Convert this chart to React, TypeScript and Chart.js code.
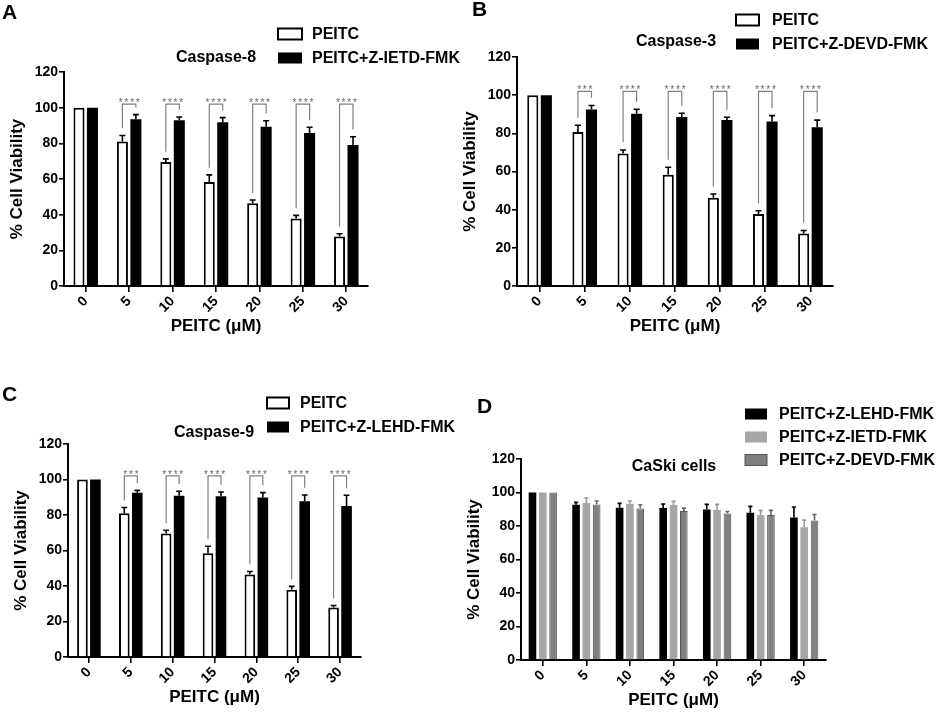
import { useEffect, useRef } from 'react';
import { Chart, registerables } from 'chart.js';

Chart.register(...registerables);

const FONT = "'Liberation Sans', Arial, Helvetica, sans-serif";
Chart.defaults.font.family = FONT;
Chart.defaults.color = '#000';

// PEITC doses (µM), shared by every panel
const doses = ['0', '5', '10', '15', '20', '25', '30'];

// A - caspase-8
const casp8Peitc = [100, 81, 69.5, 58.3, 46.4, 37.8, 27.7];
const casp8PeitcErr = [0, 3.4, 1.8, 4, 1.8, 1.8, 1.6];
const casp8Inhib = [100, 93.5, 92.9, 91.8, 89.3, 85.8, 79.1];
const casp8InhibErr = [0, 2.6, 1.9, 2.6, 3.4, 3.2, 4.6];
const casp8Stars = ['', '****', '****', '****', '****', '****', '****'];

// B - caspase-3
const casp3Peitc = [100, 80.7, 69.4, 58.3, 46.2, 37.7, 27.5];
const casp3PeitcErr = [0, 3.5, 1.9, 3.9, 2, 1.7, 1.6];
const casp3Inhib = [100, 92.5, 90.2, 88.6, 87, 86.2, 83.2];
const casp3InhibErr = [0, 2.1, 2.4, 1.9, 1.4, 3.1, 3.7];
const casp3Stars = ['', '***', '****', '****', '****', '****', '****'];

// C - caspase-9
const casp9Peitc = [100, 81, 69.6, 58.5, 46.5, 37.9, 27.9];
const casp9PeitcErr = [0, 3.2, 1.8, 3.9, 1.7, 1.9, 1.1];
const casp9Inhib = [100, 92.6, 90.8, 90.6, 89.8, 87.8, 85.1];
const casp9InhibErr = [0, 1.3, 2.6, 2.4, 2.8, 3.5, 6];
const casp9Stars = ['', '***', '****', '****', '****', '****', '****'];

// D - CaSki cells, inhibitors only
const caskiLehd = [100, 92.7, 90.9, 90.7, 89.9, 87.9, 85.1];
const caskiLehdErr = [0, 1.4, 2.6, 2.4, 3, 3.8, 6.2];
const caskiIetd = [100, 93.7, 93.3, 92.5, 89.5, 86.5, 79.3];
const caskiIetdErr = [0, 3, 1.6, 2.2, 3.4, 2.8, 4.2];
const caskiDevd = [100, 92.9, 90.5, 88.9, 87.5, 86.5, 83.3];
const caskiDevdErr = [0, 2, 2.2, 1.8, 1.2, 2.8, 3.6];

const X_AXIS_H = 51;
const Y_AXIS_W = 57;
const BRACKET_TOP = 102;
const BRACKET_GAP = 4;

type Series = {
  label: string;
  values: number[];
  errors: number[];
  fill: string;
  border: string;
  borderWidth: number;
  errColor: string;
};

type PanelProps = {
  box: { left: number; top: number; width: number; height: number };
  pad: { left: number; right: number; top: number; bottom: number };
  series: Series[];
  stars?: string[];
  catPct: number;
  barPct: number;
  letter: { text: string; x: number; y: number };
  title: { text: string; x: number; y: number };
  legend: { boxX: number; textX: number; rows: number[]; boxW: number; boxH: number };
};

const white = (label: string, values: number[], errors: number[]): Series => ({
  label, values, errors, fill: '#fff', border: '#000', borderWidth: 2, errColor: '#000',
});
const black = (label: string, values: number[], errors: number[]): Series => ({
  label, values, errors, fill: '#000', border: '#000', borderWidth: 0, errColor: '#000',
});

function Panel(props: PanelProps) {
  const canvasRef = useRef<HTMLCanvasElement | null>(null);

  useEffect(() => {
    if (!canvasRef.current) return;
    const { series, stars, letter, title, legend, pad, catPct, barPct } = props;

    const errorBars = {
      id: 'errorBars',
      afterDatasetsDraw(chart: any) {
        const { ctx } = chart;
        const y = chart.scales.y;
        series.forEach((s, di) => {
          const meta = chart.getDatasetMeta(di);
          meta.data.forEach((bar: any, i: number) => {
            const err = s.errors[i];
            if (!err) return;
            const yBase = y.getPixelForValue(s.values[i]);
            const yTop = y.getPixelForValue(s.values[i] + err);
            const half = Math.max(bar.width * 0.27, 2);
            ctx.save();
            ctx.strokeStyle = s.errColor;
            ctx.lineWidth = 1.6;
            ctx.beginPath();
            ctx.moveTo(bar.x, yBase);
            ctx.lineTo(bar.x, yTop);
            ctx.moveTo(bar.x - half, yTop);
            ctx.lineTo(bar.x + half, yTop);
            ctx.stroke();
            ctx.restore();
          });
        });
      },
    };

    const brackets = {
      id: 'brackets',
      afterDatasetsDraw(chart: any) {
        if (!stars) return;
        const { ctx } = chart;
        const y = chart.scales.y;
        const [a, b] = series;
        const ma = chart.getDatasetMeta(0);
        const mb = chart.getDatasetMeta(1);
        stars.forEach((s, i) => {
          if (!s) return;
          const xa = ma.data[i].x;
          const xb = mb.data[i].x;
          const top = y.getPixelForValue(BRACKET_TOP);
          const la = y.getPixelForValue(a.values[i] + a.errors[i] + BRACKET_GAP);
          const lb = y.getPixelForValue(b.values[i] + b.errors[i] + BRACKET_GAP);
          ctx.save();
          ctx.strokeStyle = '#808080';
          ctx.lineWidth = 1.2;
          ctx.beginPath();
          ctx.moveTo(xa, la);
          ctx.lineTo(xa, top);
          ctx.lineTo(xb, top);
          ctx.lineTo(xb, lb);
          ctx.stroke();
          ctx.fillStyle = '#666';
          ctx.font = `10px ${FONT}`;
          ctx.letterSpacing = '1.8px';
          ctx.textAlign = 'center';
          ctx.textBaseline = 'alphabetic';
          ctx.fillText(s, (xa + xb) / 2 + 1, top + 2);
          ctx.restore();
        });
      },
    };

    const decor = {
      id: 'decor',
      afterDraw(chart: any) {
        const { ctx } = chart;
        ctx.save();
        ctx.fillStyle = '#000';
        ctx.textBaseline = 'middle';
        ctx.font = `bold 21px ${FONT}`;
        ctx.textAlign = 'left';
        ctx.fillText(letter.text, letter.x, letter.y);
        ctx.font = `bold 16px ${FONT}`;
        ctx.textAlign = 'center';
        ctx.fillText(title.text, title.x, title.y);
        ctx.textAlign = 'left';
        series.forEach((s, k) => {
          const ry = legend.rows[k];
          ctx.fillStyle = s.fill;
          ctx.fillRect(legend.boxX, ry - legend.boxH / 2, legend.boxW, legend.boxH);
          if (s.borderWidth) {
            ctx.strokeStyle = s.border;
            ctx.lineWidth = s.borderWidth;
            ctx.strokeRect(legend.boxX, ry - legend.boxH / 2, legend.boxW, legend.boxH);
          }
          ctx.fillStyle = '#000';
          ctx.fillText(s.label, legend.textX, ry + 1);
        });
        ctx.restore();
      },
    };

    const tickFont = { family: FONT, size: 14, weight: 'bold' as const };
    const titleFont = { family: FONT, size: 17, weight: 'bold' as const };

    const chart = new Chart(canvasRef.current, {
      type: 'bar',
      data: {
        labels: doses,
        datasets: series.map((s) => ({
          label: s.label,
          data: s.values,
          backgroundColor: s.fill,
          borderColor: s.border,
          borderWidth: s.borderWidth,
          categoryPercentage: catPct,
          barPercentage: barPct,
        })),
      },
      options: {
        responsive: true,
        maintainAspectRatio: false,
        animation: false,
        layout: { padding: pad },
        plugins: {
          legend: { display: false },
          tooltip: { enabled: false },
          title: { display: false },
        },
        scales: {
          x: {
            offset: true,
            grid: { offset: false, drawOnChartArea: false, tickLength: 6, color: '#000', lineWidth: 1.6 },
            border: { color: '#000', width: 2 },
            ticks: { color: '#000', font: tickFont, minRotation: 45, maxRotation: 45, autoSkip: false, padding: 1 },
            title: { display: true, text: 'PEITC (μM)', color: '#000', font: titleFont, padding: { top: 0, bottom: 0 } },
            afterFit: (scale: any) => { scale.height = X_AXIS_H; },
          },
          y: {
            min: 0,
            max: 120,
            grid: { drawOnChartArea: false, tickLength: 5, color: '#000', lineWidth: 1.6 },
            border: { color: '#000', width: 2 },
            ticks: { stepSize: 20, color: '#000', font: tickFont, padding: 1 },
            title: { display: true, text: '% Cell Viability', color: '#000', font: titleFont, padding: { top: 0, bottom: 0 } },
            afterFit: (scale: any) => { scale.width = Y_AXIS_W; },
          },
        },
      },
      plugins: [errorBars, brackets, decor],
    });

    return () => chart.destroy();
  }, []);

  const { box } = props;
  return (
    <div style={{ position: 'absolute', left: box.left, top: box.top, width: box.width, height: box.height }}>
      <canvas ref={canvasRef} />
    </div>
  );
}

export default function App() {
  return (
    <div style={{ position: 'fixed', left: 0, top: 0, width: 941, height: 712, background: '#fff', overflow: 'hidden' }}>
      <Panel
        box={{ left: 0, top: 0, width: 470, height: 350 }}
        pad={{ left: 7, right: 102, top: 72, bottom: 13 }}
        series={[white('PEITC', casp8Peitc, casp8PeitcErr), black('PEITC+Z-IETD-FMK', casp8Inhib, casp8InhibErr)]}
        stars={casp8Stars}
        catPct={0.62}
        barPct={0.82}
        letter={{ text: 'A', x: 2, y: 13 }}
        title={{ text: 'Caspase-8', x: 216, y: 58 }}
        legend={{ boxX: 278, textX: 312, rows: [34, 58], boxW: 24, boxH: 11 }}
      />
      <Panel
        box={{ left: 450, top: 0, width: 491, height: 350 }}
        pad={{ left: 10, right: 108, top: 57, bottom: 13 }}
        series={[white('PEITC', casp3Peitc, casp3PeitcErr), black('PEITC+Z-DEVD-FMK', casp3Inhib, casp3InhibErr)]}
        stars={casp3Stars}
        catPct={0.6}
        barPct={0.82}
        letter={{ text: 'B', x: 22, y: 10 }}
        title={{ text: 'Caspase-3', x: 226, y: 42 }}
        legend={{ boxX: 286, textX: 322, rows: [20, 44], boxW: 23, boxH: 11 }}
      />
      <Panel
        box={{ left: 0, top: 360, width: 470, height: 352 }}
        pad={{ left: 11, right: 109, top: 84, bottom: 4 }}
        series={[white('PEITC', casp9Peitc, casp9PeitcErr), black('PEITC+Z-LEHD-FMK', casp9Inhib, casp9InhibErr)]}
        stars={casp9Stars}
        catPct={0.62}
        barPct={0.82}
        letter={{ text: 'C', x: 2, y: 35 }}
        title={{ text: 'Caspase-9', x: 214, y: 73 }}
        legend={{ boxX: 267, textX: 300, rows: [43, 67], boxW: 22, boxH: 11 }}
      />
      <Panel
        box={{ left: 450, top: 360, width: 491, height: 352 }}
        pad={{ left: 14, right: 115, top: 99, bottom: 1 }}
        series={[
          { label: 'PEITC+Z-LEHD-FMK', values: caskiLehd, errors: caskiLehdErr, fill: '#000', border: '#000', borderWidth: 0, errColor: '#000' },
          { label: 'PEITC+Z-IETD-FMK', values: caskiIetd, errors: caskiIetdErr, fill: '#a6a6a6', border: '#a6a6a6', borderWidth: 0, errColor: '#9a9a9a' },
          { label: 'PEITC+Z-DEVD-FMK', values: caskiDevd, errors: caskiDevdErr, fill: '#808080', border: '#555', borderWidth: 1, errColor: '#666' },
        ]}
        catPct={0.71}
        barPct={0.74}
        letter={{ text: 'D', x: 27, y: 47 }}
        title={{ text: 'CaSki cells', x: 224, y: 107 }}
        legend={{ boxX: 295, textX: 329, rows: [54, 77, 100], boxW: 22, boxH: 11 }}
      />
    </div>
  );
}
